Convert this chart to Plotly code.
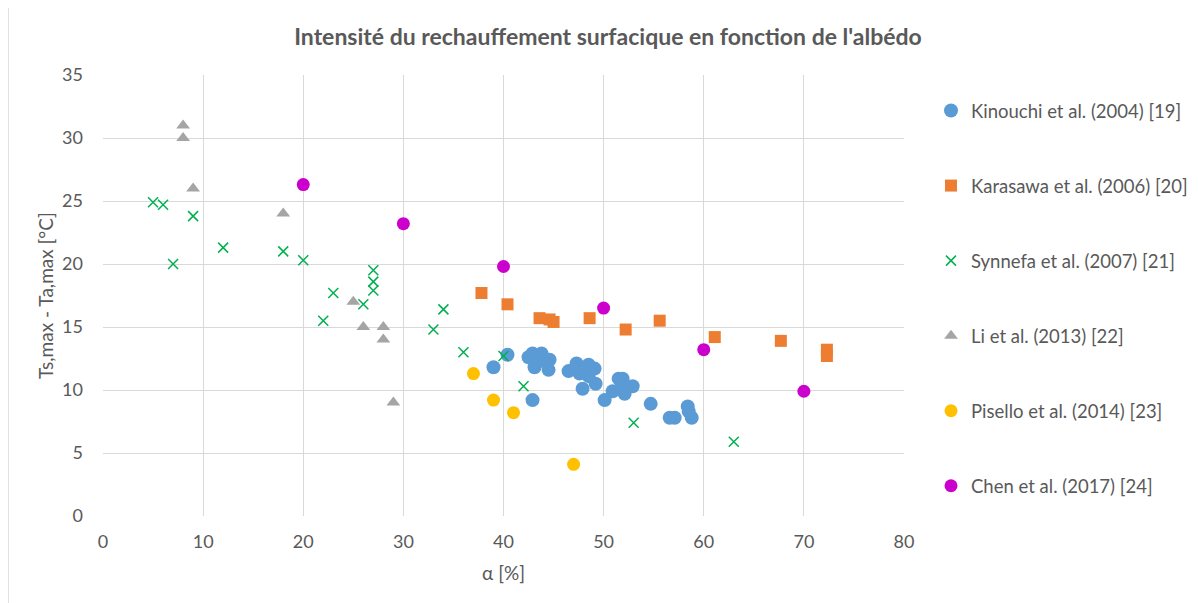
import plotly.graph_objects as go

# ---- data ----
kin_x = [39.0, 40.4, 42.9, 42.5, 42.9, 43.8, 44.6, 43.1, 44.5, 44.0, 43.5,
         46.5, 47.3, 48.5, 49.1, 47.6, 48.5, 47.9, 49.2, 50.1, 50.9, 51.5,
         51.9, 51.8, 52.1, 52.9, 54.7, 56.6, 57.1, 58.4, 58.5, 58.8]
kin_y = [11.8, 12.8, 9.2, 12.6, 12.9, 12.9, 12.4, 11.8, 11.6, 12.3, 12.6,
         11.5, 12.1, 12.0, 11.7, 11.3, 11.1, 10.1, 10.5, 9.2, 9.9, 10.9,
         10.9, 10.5, 9.7, 10.3, 8.9, 7.8, 7.8, 8.7, 8.3, 7.8]

kar_x = [37.8, 40.4, 43.6, 44.6, 45.0, 48.6, 52.2, 55.6, 61.1, 67.7, 72.3, 72.3]
kar_y = [17.7, 16.8, 15.7, 15.6, 15.4, 15.7, 14.8, 15.5, 14.2, 13.9, 13.2, 12.7]

syn_x = [5, 6, 7, 9, 12, 18, 20, 22, 23, 26, 27, 27, 27, 33, 34, 36, 40, 42, 53, 63]
syn_y = [24.9, 24.7, 20.0, 23.8, 21.3, 21.0, 20.3, 15.5, 17.7, 16.8, 19.5, 18.6, 17.9,
         14.8, 16.4, 13.0, 12.7, 10.3, 7.4, 5.9]

li_x = [8, 8, 9, 18, 25, 26, 28, 28, 29]
li_y = [31, 30, 26, 24, 17, 15, 15, 14, 9]

pis_x = [37, 39, 41, 47]
pis_y = [11.3, 9.2, 8.2, 4.1]

chen_x = [20, 30, 40, 50, 60, 70]
chen_y = [26.3, 23.2, 19.8, 16.5, 13.2, 9.9]

names = ["Kinouchi et al. (2004) [19]", "Karasawa et al. (2006) [20]",
         "Synnefa et al. (2007) [21]", "Li et al. (2013) [22]",
         "Pisello et al. (2014) [23]", "Chen et al. (2017) [24]"]

title_text = "Intensité du rechauffement surfacique en fonction de l'albédo"
x_title = "α [%]"
y_title = "Ts,max - Ta,max [°C]"

FONT = "Lato"
GREY = "#595959"

fig = go.Figure()
series = [
    (kin_x, kin_y, dict(symbol="circle", size=14, color="#5b9bd5")),
    (kar_x, kar_y, dict(symbol="square", size=12, color="#ed7d31")),
    (syn_x, syn_y, dict(symbol="x-thin", size=10, color="#00b050",
                        line=dict(color="#00b050", width=1.5))),
    (li_x, li_y, dict(symbol="triangle-up", size=12, color="#a5a5a5")),
    (pis_x, pis_y, dict(symbol="circle", size=13, color="#ffc000")),
    (chen_x, chen_y, dict(symbol="circle", size=13, color="#cc00cc")),
]
for i, ((xs, ys, mk), nm) in enumerate(zip(series, names)):
    fig.add_trace(go.Scatter(x=xs, y=ys, mode="markers", name=nm, marker=mk,
                             legendgroup=str(i)))

# page body has an 8px margin; figure drawn at (8,8)
OFF = 8
W, H = 1198, 603
L, R, T, B = 103, 904, 75, 516          # plot area in screen px
pw, ph = R - L, B - T

fig.update_layout(
    width=W, height=H,
    margin=dict(l=L - OFF, r=W + OFF - R, t=T - OFF, b=H + OFF - B, autoexpand=False),
    paper_bgcolor="white", plot_bgcolor="white",
    font=dict(family=FONT, color=GREY, size=18),
    title=dict(text="<b>" + title_text + "</b>", x=(608 - OFF) / W, xanchor="center",
               y=1 - (37 - OFF) / H, yanchor="middle",
               font=dict(size=23, color=GREY, family=FONT)),
    xaxis=dict(range=[0, 80], dtick=10, showgrid=True, gridcolor="#d9d9d9",
               gridwidth=1, zeroline=False, showline=False,
               ticks="", ticklabelstandoff=13, automargin=False,
               title=dict(text=x_title, standoff=15, font=dict(size=19, color=GREY)),
               tickfont=dict(size=18, color=GREY)),
    yaxis=dict(range=[0, 35], dtick=5, showgrid=True, gridcolor="#d9d9d9",
               gridwidth=1, zeroline=False, showline=False, ticks="",
               ticklabelstandoff=19, automargin=False,
               tickfont=dict(size=18, color=GREY)),
    legend=dict(x=(931 - L) / pw, xanchor="left", y=(B - 92) / ph, yanchor="top",
                font=dict(size=18.5, color=GREY), tracegroupgap=48,
                bgcolor="rgba(0,0,0,0)", itemwidth=30),
    showlegend=True,
)

# y-axis title placed explicitly
fig.add_annotation(text=y_title, xref="paper", yref="paper",
                   x=(45 - L) / pw, y=(B - 296) / ph, xanchor="center", yanchor="middle",
                   textangle=-90, showarrow=False, font=dict(size=19, color=GREY))

# chart-area border (left and top edges)
fig.add_shape(type="line", xref="paper", yref="paper",
              x0=(8 - L) / pw, x1=(8 - L) / pw, y0=(B - 7) / ph, y1=(B - 640) / ph,
              line=dict(color="#d9d9d9", width=1.5))
fig.add_shape(type="line", xref="paper", yref="paper",
              x0=(8 - L) / pw, x1=(1240 - L) / pw, y0=(B - 7) / ph, y1=(B - 7) / ph,
              line=dict(color="#d9d9d9", width=1.5))

fig.write_html("out.html")
